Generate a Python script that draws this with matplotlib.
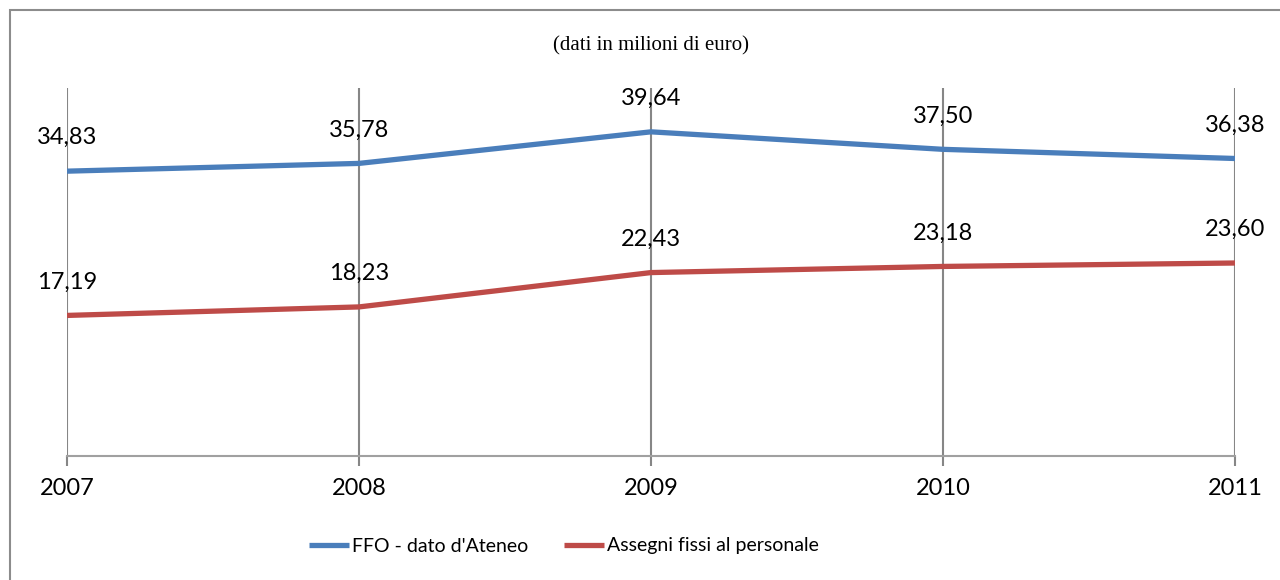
import matplotlib
matplotlib.use('Agg')
import matplotlib.pyplot as plt
from matplotlib.patches import Rectangle

plt.rcParams['font.family'] = ['Lato', 'DejaVu Sans']

# dati
anni = [2007, 2008, 2009, 2010, 2011]
ffo = [34.83, 35.78, 39.64, 37.50, 36.38]
assegni = [17.19, 18.23, 22.43, 23.18, 23.60]
nomi = ["FFO - dato d'Ateneo", "Assegni fissi al personale"]
colori = ['#4A7EBB', '#BE4B48']

W, H = 1280, 580
fig = plt.figure(figsize=(W / 100, H / 100), dpi=100)
ax = fig.add_axes([67 / W, 1 - 456 / H, (1235 - 67) / W, (456 - 88) / H])

for serie, nome, col in zip([ffo, assegni], nomi, colori):
    ax.plot(anni, serie, color=col, lw=3.8, label=nome, solid_capstyle='butt', zorder=3)
    for a, v in zip(anni, serie):
        ax.annotate(f'{v:.2f}'.replace('.', ','), (a, v), xytext=(0, 24),
                    textcoords='offset points', ha='center', va='center',
                    fontsize=17, color='black', zorder=4)

ax.set_xlim(anni[0], anni[-1])
ax.set_ylim(0, 45)
ax.set_xticks(anni)
ax.set_xticklabels([str(a) for a in anni], fontsize=17)
ax.set_yticks([])
ax.grid(axis='x', color='#868686', lw=1.5)
for s in ['left', 'right', 'top']:
    ax.spines[s].set_visible(False)
ax.spines['bottom'].set_color('#A0A0A0')
ax.spines['bottom'].set_linewidth(1.5)
ax.tick_params(axis='x', length=7, width=1.5, color='#868686', pad=9)

fig.text(651 / W, 1 - 46 / H, '(dati in milioni di euro)', ha='center', va='center',
         fontsize=15, family='Liberation Serif')

fig.legend(loc='center', bbox_to_anchor=(564 / W, 1 - 546 / H), ncol=2, frameon=False,
           fontsize=14, handlelength=2.05, handletextpad=0.2, columnspacing=1.8)

# cornice del grafico
fig.add_artist(Rectangle((10 / W, -0.1), 1.2, (H - 10) / H + 0.1, transform=fig.transFigure,
                         fill=False, ec='#8C8C8C', lw=1.5))

fig.savefig('out.png', dpi=100)
